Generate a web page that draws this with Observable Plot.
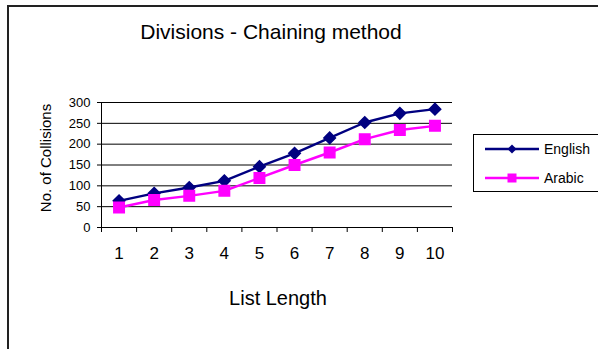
<!DOCTYPE html>
<html><head><meta charset="utf-8">
<script src="https://cdn.jsdelivr.net/npm/d3@7"></script>
<script src="https://cdn.jsdelivr.net/npm/@observablehq/plot@0.6"></script>
<style>
body{margin:0;background:#fff;font-family:Arial,"Liberation Sans",sans-serif}
#wrap{position:relative;width:598px;height:349px;overflow:hidden;background:#fff}
#wrap svg.plot{position:absolute;left:0;top:0}
.frame{position:absolute;left:7px;top:5px;width:640px;height:400px;border-top:2px solid #222;border-left:2px solid #222}
.title{position:absolute;left:271px;top:21px;transform:translateX(-50%);font-size:21px;line-height:21px;white-space:nowrap;color:#000}
.xlabel{position:absolute;left:278px;top:288px;transform:translateX(-50%);font-size:20px;line-height:20px;white-space:nowrap;color:#000}
.ylabel{position:absolute;left:45px;top:158px;transform:translate(-50%,-50%) rotate(-90deg);font-size:15px;line-height:15px;white-space:nowrap;color:#000}
.legend{position:absolute;left:473px;top:134px;width:130px;height:56px;border:1px solid #000;background:#fff}
.legend .row{position:absolute;left:0;height:20px;font-size:14px;line-height:20px}
.legend .row span{position:absolute;left:70px;top:0;white-space:nowrap}
.legend svg{position:absolute;left:10px;top:0}
</style></head><body><div id="wrap"></div>
<script>
const listLengths = [1, 2, 3, 4, 5, 6, 7, 8, 9, 10];
const english = [64, 82, 96, 112, 146, 178, 215, 252, 274, 284];
const arabic = [48, 66, 76, 88, 119, 150, 180, 212, 234, 244];
const yTicks = [0, 50, 100, 150, 200, 250, 300];
const seriesNames = ["English", "Arabic"];
const seriesColors = ["#000080", "#FF00FF"];
const seriesSymbols = ["diamond2", "square"];

const rows = [];
listLengths.forEach((x, i) => {
  rows.push({x, y: english[i], s: "English"});
  rows.push({x, y: arabic[i], s: "Arabic"});
});
const boundaries = listLengths.map(d => d - 0.5).concat([listLengths[listLengths.length - 1] + 0.5]);

const plot = Plot.plot({
  width: 598, height: 349,
  marginLeft: 101, marginRight: 146, marginTop: 102, marginBottom: 122,
  x: {domain: [0.5, 10.5]},
  y: {domain: [0, 300]},
  color: {domain: seriesNames, range: seriesColors},
  symbol: {domain: seriesNames, range: seriesSymbols},
  style: {fontFamily: "Arial, 'Liberation Sans', sans-serif", background: "transparent", color: "#000"},
  marks: [
    Plot.ruleY(yTicks.filter(d => d > 0), {stroke: "#000", strokeWidth: 1, strokeOpacity: 1}),
    Plot.axisY({ticks: yTicks, tickSize: 4, tickPadding: 7, fontSize: 13, label: null, strokeOpacity: 1}),
    Plot.axisX({ticks: listLengths, tickSize: 0, tickPadding: 19, fontSize: 17, label: null}),
    Plot.axisX({ticks: boundaries, tickSize: 5, tickFormat: () => "", label: null, strokeOpacity: 1}),
    Plot.ruleX([0.5], {stroke: "#000", strokeWidth: 1}),
    Plot.ruleY([0], {stroke: "#000", strokeWidth: 1}),
    Plot.line(rows, {x: "x", y: "y", stroke: "s", z: "s", strokeWidth: 2.4}),
    Plot.dot(rows.filter(d => d.s === "English"), {x: "x", y: "y", symbol: "s", fill: "s", stroke: "s", r: 5.2}),
    Plot.dot(rows.filter(d => d.s === "Arabic"), {x: "x", y: "y", symbol: "s", fill: "s", stroke: "s", r: 5.9})
  ]
});

const wrap = document.getElementById("wrap");
wrap.appendChild(plot);
plot.classList.add("plot");

function addDiv(cls, text) {
  const d = document.createElement("div");
  d.className = cls;
  if (text) d.textContent = text;
  wrap.appendChild(d);
  return d;
}
addDiv("frame");
addDiv("title", "Divisions - Chaining method");
addDiv("xlabel", "List Length");
addDiv("ylabel", "No. of Collisions");

const legend = addDiv("legend");
seriesNames.forEach((name, i) => {
  const row = document.createElement("div");
  row.className = "row";
  row.style.top = (i === 0 ? 4 : 33) + "px";
  row.style.width = "130px";
  const svg = d3.create("svg").attr("width", 56).attr("height", 20);
  svg.append("line").attr("x1", 1).attr("x2", 55).attr("y1", 10).attr("y2", 10)
    .attr("stroke", seriesColors[i]).attr("stroke-width", 2.4);
  if (i === 0) {
    svg.append("path").attr("d", "M28,5.5L32.5,10L28,14.5L23.5,10Z").attr("fill", seriesColors[i]);
  } else {
    svg.append("rect").attr("x", 23.5).attr("y", 5.5).attr("width", 9).attr("height", 9).attr("fill", seriesColors[i]);
  }
  row.appendChild(svg.node());
  const span = document.createElement("span");
  span.textContent = name;
  row.appendChild(span);
  legend.appendChild(row);
});
</script>
</body></html>
